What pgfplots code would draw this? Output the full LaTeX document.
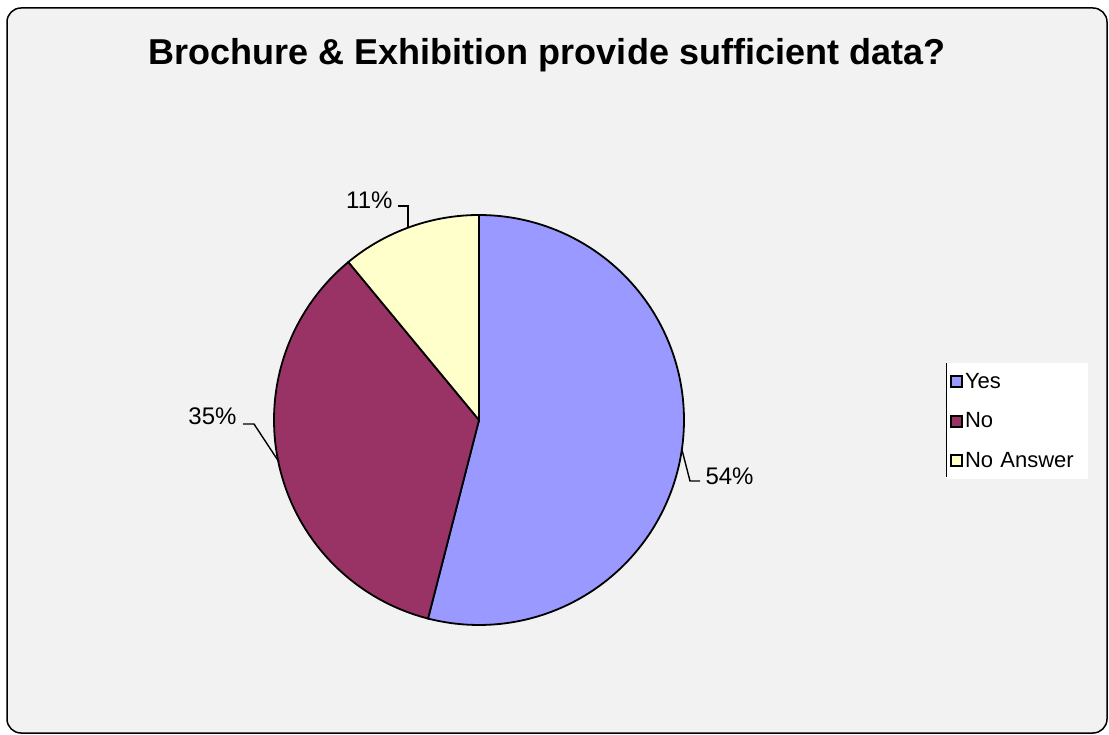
\documentclass[border=0pt]{standalone}
\usepackage{pgfplots}
\pgfplotsset{compat=1.18}
\usepackage{fontspec}
\setmainfont{Liberation Sans}
\definecolor{yescol}{HTML}{9999FF}
\definecolor{nocol}{HTML}{993366}
\definecolor{nacol}{HTML}{FFFFCC}
\definecolor{bgcol}{HTML}{F2F2F2}
\begin{document}
\begin{tikzpicture}[x=1pt,y=1pt]
\fill[white] (0,0) rectangle (1109,734);
\draw[line width=1.5pt, fill=bgcol, rounded corners=14pt] (7,1) rectangle (1107,726);
\begin{axis}[
  at={(0,0)}, anchor=south west,
  scale only axis, width=1109pt, height=734pt,
  xmin=0, xmax=1109, ymin=0, ymax=734,
  hide axis, clip=false,
  legend style={at={(axis cs:947,371)}, anchor=north west, fill=white, draw=none,
    font=\fontsize{22}{25}\selectfont, row sep=19pt, inner xsep=3pt, inner ysep=8pt,
    text width=118pt,
    /tikz/every even column/.append style={column sep=2pt}},
  legend cell align=left,
]
% values: Yes 54, No 35, No Answer 11 (percent), clockwise from top
\addplot[fill=yescol, draw=black, line width=1.8pt, domain={90}:{90-3.6*54}, samples=150,
  legend image code/.code={\draw[fill=yescol,draw=black,line width=1.8pt] (0pt,-5.5pt) rectangle (11pt,5.5pt);}]
  ({479+205*cos(x)},{314+205*sin(x)}) -- (479,314) -- cycle;
\addplot[fill=nocol, draw=black, line width=1.8pt, domain={90-3.6*54}:{90-3.6*(54+35)}, samples=120,
  legend image code/.code={\draw[fill=nocol,draw=black,line width=1.8pt] (0pt,-5.5pt) rectangle (11pt,5.5pt);}]
  ({479+205*cos(x)},{314+205*sin(x)}) -- (479,314) -- cycle;
\addplot[fill=nacol, draw=black, line width=1.8pt, domain={90-3.6*(54+35)}:{90-3.6*100}, samples=60,
  legend image code/.code={\draw[fill=nacol,draw=black,line width=1.8pt] (0pt,-5.5pt) rectangle (11pt,5.5pt);}]
  ({479+205*cos(x)},{314+205*sin(x)}) -- (479,314) -- cycle;
\legend{Yes,No,No Answer}
% leader lines
\draw[line width=1.4pt] (682,284) -- (690,253) -- (700,253);
\draw[line width=1.4pt] (243,310) -- (254,310) -- (279,272);
\draw[line width=1.4pt] (398,528) -- (408,528) -- (408,506);
\node[anchor=west, font=\fontsize{24}{28}\selectfont] at (702,258) {54\%};
\node[anchor=east, font=\fontsize{24}{28}\selectfont] at (240,318) {35\%};
\node[anchor=east, font=\fontsize{24}{28}\selectfont] at (396,534) {11\%};
\node[font=\bfseries\fontsize{36}{42}\selectfont] at (547,679) {Brochure \& Exhibition provide sufficient data?};
\draw[line width=1.2pt] (947,371) -- (947,257);
\end{axis}
\end{tikzpicture}
\end{document}
